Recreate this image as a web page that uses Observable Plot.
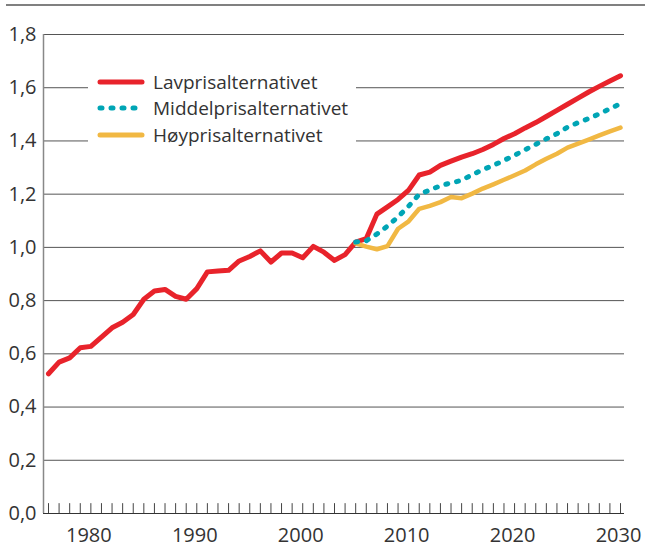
<!DOCTYPE html>
<html><head><meta charset="utf-8">
<script src="https://cdn.jsdelivr.net/npm/d3@7"></script>
<script src="https://cdn.jsdelivr.net/npm/@observablehq/plot@0.6"></script>
<style>
body{margin:0;background:#fff;font-family:"Open Sans",sans-serif;}
#wrap{position:relative;width:645px;height:547px;}
#rule{position:absolute;left:6px;right:0;top:4px;height:2px;background:#808080;}
#legend{position:absolute;left:88px;top:68px;width:268px;height:80px;background:#fff;}
.row{position:absolute;left:9px;height:26px;display:flex;align-items:center;font-size:19px;color:#333;white-space:nowrap;}
.row svg{margin-right:8px;}
</style></head><body>
<div id="wrap"><div id="rule"></div></div>
<script>
const years = d3.range(1976, 2031);
const lavValues = [0.525,0.569,0.585,0.623,0.628,0.663,0.698,0.719,0.748,0.805,
  0.836,0.842,0.816,0.805,0.845,0.908,0.911,0.914,0.949,0.966,
  0.987,0.945,0.979,0.979,0.961,1.004,0.982,0.951,0.973,1.02,
  1.033,1.125,1.152,1.18,1.215,1.272,1.283,1.308,1.324,1.339,
  1.352,1.368,1.387,1.409,1.427,1.449,1.469,1.492,1.515,1.538,
  1.561,1.584,1.605,1.625,1.645];
const projYears = d3.range(2005, 2031);
const middelValues = [1.02,1.025,1.05,1.08,1.115,1.155,1.2,1.215,1.232,1.242,
  1.252,1.273,1.292,1.308,1.327,1.346,1.367,1.387,1.408,1.427,
  1.452,1.469,1.484,1.502,1.521,1.540];
const hoyValues = [1.015,1.003,0.993,1.005,1.07,1.098,1.145,1.156,1.17,1.189,
  1.185,1.202,1.221,1.237,1.254,1.271,1.289,1.312,1.333,1.352,
  1.375,1.39,1.405,1.421,1.436,1.45];
const seriesNames = ["Lavprisalternativet","Middelprisalternativet","Høyprisalternativet"];
const xTickLabels = [1980,1990,2000,2010,2020,2030];
const yTicks = [0,0.2,0.4,0.6,0.8,1.0,1.2,1.4,1.6,1.8];

const RED = "#e8232b", TEAL = "#00a5b5", YEL = "#f1b843";
const lav = years.map((y,i)=>({year:y, value:lavValues[i]}));
const mid = projYears.map((y,i)=>({year:y, value:middelValues[i]}));
const hoy = projYears.map((y,i)=>({year:y, value:hoyValues[i]}));

const plot = Plot.plot({
  width: 645, height: 547,
  marginLeft: 43, marginRight: 21, marginTop: 34, marginBottom: 34,
  style: {fontFamily: "'Open Sans', sans-serif", fontSize: "20px", color: "#333", background: "transparent"},
  x: {domain: [1976, 2030], insetLeft: 5, insetRight: 4},
  y: {domain: [0, 1.8]},
  marks: [
    Plot.ruleY(yTicks.filter(d => d > 0), {stroke: "#555", strokeWidth: 1}),
    Plot.ruleX([1976], {dx: -5, y1: 0, y2: 1.8, stroke: "#888", strokeWidth: 1.5}),
    Plot.ruleY([0], {stroke: "#333", strokeWidth: 1.2}),
    Plot.ruleX(years, {y1: 0, y2: 0.037, stroke: "#444", strokeWidth: 1}),
    Plot.axisY({ticks: yTicks, tickSize: 0, tickPadding: 7, label: null, fontSize: 20,
      tickFormat: d => d.toFixed(1).replace(".", ",")}),
    Plot.axisX({ticks: xTickLabels, tickSize: 0, tickPadding: 14, label: null, dx: -2, fontSize: 20,
      tickFormat: d => String(d)}),
    Plot.line(lav, {x: "year", y: "value", stroke: RED, strokeWidth: 5, strokeLinejoin: "round", strokeLinecap: "round"}),
    Plot.line(hoy, {x: "year", y: "value", stroke: YEL, strokeWidth: 4.5, strokeLinejoin: "round"}),
    Plot.line(mid, {x: "year", y: "value", stroke: TEAL, strokeWidth: 5, strokeDasharray: "2,9", strokeLinecap: "round", strokeLinejoin: "round"})
  ]
});
const wrap = document.getElementById("wrap");
wrap.insertBefore(plot, wrap.firstChild);
plot.style.position = "absolute"; plot.style.left = "0"; plot.style.top = "0";

const legend = document.createElement("div");
legend.id = "legend";
const styles = [
  {stroke: RED, dash: null, cap: "round"},
  {stroke: TEAL, dash: "2,9", cap: "round"},
  {stroke: YEL, dash: null, cap: "round"}
];
seriesNames.forEach((name, i) => {
  const row = document.createElement("div");
  row.className = "row";
  row.style.top = (1 + i * 26.3) + "px";
  const s = styles[i];
  row.innerHTML = `<svg width="48" height="10"><line x1="3" x2="${s.dash ? 47 : 45}" y1="5" y2="5" stroke="${s.stroke}" stroke-width="5" stroke-linecap="${s.cap}" ${s.dash ? `stroke-dasharray="${s.dash}"` : ""}/></svg><span>${name}</span>`;
  legend.appendChild(row);
});
wrap.appendChild(legend);
</script>
</body></html>
